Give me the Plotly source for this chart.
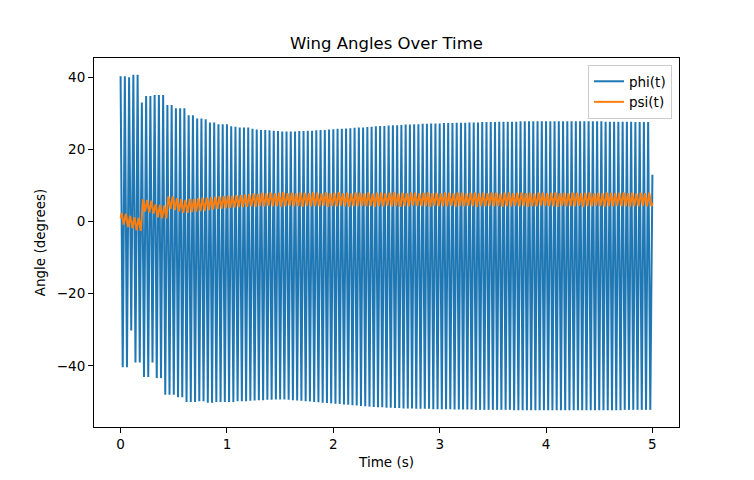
import plotly.graph_objects as go

# wingbeat period (s): one up/down stroke per entry in the lists below
PERIOD = 0.04

PHI_MAX = [
    40.3, 40.3, 40.0, 40.7, 40.7, 33.0, 34.8, 34.8, 35.1, 35.1,
    35.1, 32.3, 32.3, 31.4, 31.4, 31.4, 29.5, 29.5, 28.6, 28.6,
    28.4, 27.5, 27.5, 27.0, 27.0, 27.0, 26.4, 26.3, 26.1, 26.1,
    26.1, 25.7, 25.5, 25.4, 25.4, 25.3, 25.2, 25.1, 25.0, 25.0,
    25.0, 25.0, 25.1, 25.1, 25.2, 25.2, 25.3, 25.4, 25.4, 25.5,
    25.6, 25.7, 25.7, 25.8, 25.9, 26.0, 26.1, 26.1, 26.2, 26.3,
    26.4, 26.5, 26.5, 26.6, 26.7, 26.7, 26.8, 26.9, 26.9, 27.0,
    27.0, 27.1, 27.1, 27.2, 27.2, 27.2, 27.3, 27.3, 27.3, 27.4,
    27.4, 27.4, 27.5, 27.5, 27.5, 27.6, 27.6, 27.6, 27.6, 27.7,
    27.7, 27.7, 27.7, 27.7, 27.8, 27.8, 27.8, 27.8, 27.8, 27.8,
    27.8, 27.8, 27.8, 27.8, 27.8, 27.8, 27.8, 27.8, 27.8, 27.8,
    27.8, 27.8, 27.8, 27.8, 27.7, 27.7, 27.7, 27.7, 27.7, 27.7,
    27.7, 27.6, 27.6, 27.6, 27.6,
]
PHI_MIN = [
    -40.4, -40.4, -30.2, -39.1, -39.1, -43.1, -43.1, -39.1, -43.4, -43.4,
    -48.0, -48.0, -48.0, -48.7, -48.7, -50.0, -50.0, -50.0, -49.8, -49.8,
    -50.2, -50.2, -50.0, -50.0, -50.0, -50.0, -50.0, -49.8, -49.8, -49.8,
    -49.7, -49.6, -49.5, -49.5, -49.4, -49.4, -49.3, -49.3, -49.3, -49.4,
    -49.5, -49.6, -49.7, -49.8, -49.9, -50.0, -50.1, -50.2, -50.3, -50.4,
    -50.5, -50.6, -50.7, -50.8, -50.9, -51.0, -51.1, -51.2, -51.3, -51.4,
    -51.5, -51.5, -51.6, -51.6, -51.7, -51.7, -51.8, -51.8, -51.8, -51.9,
    -51.9, -51.9, -51.9, -52.0, -52.0, -52.0, -52.0, -52.0, -52.1, -52.1,
    -52.1, -52.1, -52.1, -52.2, -52.2, -52.2, -52.2, -52.2, -52.2, -52.2,
    -52.2, -52.2, -52.3, -52.3, -52.3, -52.3, -52.3, -52.3, -52.3, -52.3,
    -52.3, -52.3, -52.3, -52.3, -52.3, -52.3, -52.3, -52.3, -52.3, -52.3,
    -52.3, -52.3, -52.3, -52.3, -52.3, -52.3, -52.3, -52.3, -52.2, -52.2,
    -52.2, -52.2, -52.2, -52.2, -52.2,
]
PHI_END = (5.0, 13.0)

PSI_START = (0.0, 0.9)
PSI_MAX = [
    2.4, 2.2, 1.6, 1.2, 1.0, 6.2, 6.0, 5.8, 4.8, 4.6,
    4.5, 7.0, 7.0, 6.5, 6.2, 6.0, 6.3, 6.3, 6.5, 6.6,
    6.6, 6.8, 6.9, 7.0, 7.1, 7.2, 7.2, 7.3, 7.3, 7.5,
    7.6, 7.8, 7.7, 8.0, 7.9, 8.1, 7.8, 8.0, 8.2, 7.9,
    8.0, 7.8, 8.1, 8.0, 7.9, 8.2, 8.0, 7.8, 8.1, 7.9,
    8.0, 8.2, 7.9, 8.0, 7.8, 8.1, 8.0, 7.9, 8.1, 7.8,
    8.0, 8.1, 7.9, 8.0, 8.2, 7.8, 8.0, 7.9, 8.1, 8.0,
    7.8, 8.0, 8.1, 7.9, 8.0, 7.8, 8.1, 8.0, 7.9, 8.1,
    8.0, 7.8, 8.0, 8.1, 7.9, 8.0, 7.9, 8.1, 8.0, 7.8,
    8.0, 8.1, 7.9, 8.0, 8.1, 7.9, 8.0, 7.8, 8.1, 8.0,
    7.9, 8.0, 8.1, 7.8, 8.0, 7.9, 8.1, 8.0, 7.9, 8.0,
    8.1, 7.8, 8.0, 7.9, 8.1, 8.0, 7.9, 8.0, 8.1, 7.9,
    8.0, 7.8, 8.0, 7.9, 8.0,
]
PSI_MIN = [
    -0.8, -1.5, -1.8, -2.4, -2.6, 2.8, 2.5, 2.2, 1.2, 0.9,
    0.9, 3.5, 3.2, 2.8, 2.4, 2.4, 2.6, 2.8, 2.9, 3.0,
    3.2, 3.4, 3.5, 3.6, 3.7, 3.8, 3.9, 4.0, 4.0, 4.1,
    4.2, 4.1, 4.3, 4.2, 4.4, 4.2, 4.3, 4.1, 4.3, 4.4,
    4.2, 4.3, 4.1, 4.4, 4.2, 4.3, 4.2, 4.4, 4.1, 4.3,
    4.2, 4.4, 4.3, 4.1, 4.3, 4.2, 4.4, 4.2, 4.3, 4.1,
    4.3, 4.2, 4.4, 4.2, 4.3, 4.1, 4.3, 4.2, 4.4, 4.3,
    4.2, 4.3, 4.1, 4.4, 4.2, 4.3, 4.2, 4.4, 4.1, 4.3,
    4.2, 4.4, 4.3, 4.1, 4.3, 4.2, 4.4, 4.2, 4.3, 4.1,
    4.3, 4.2, 4.4, 4.2, 4.3, 4.1, 4.3, 4.2, 4.4, 4.3,
    4.2, 4.3, 4.1, 4.4, 4.2, 4.3, 4.2, 4.4, 4.1, 4.3,
    4.2, 4.4, 4.3, 4.1, 4.3, 4.2, 4.4, 4.2, 4.3, 4.1,
    4.3, 4.2, 4.4, 4.2, 4.3,
]
PSI_END = (5.0, 5.2)

X_TICKS = [0, 1, 2, 3, 4, 5]
Y_TICKS = [-40, -20, 0, 20, 40]

FONT = 'DejaVu Sans'


def build_series(maxima, minima, max_offset, min_offset, start=None, end=None):
    """
    Interleaves the per-stroke extrema into one time/value series.

    Arguments:
        maxima {list} -- stroke maxima, one per wingbeat
        minima {list} -- stroke minima, one per wingbeat
        max_offset {float} -- time of the maximum inside a beat
        min_offset {float} -- time of the minimum inside a beat
        start {tuple} -- optional (t, value) point before the first beat
        end {tuple} -- optional (t, value) point after the last beat

    Returns:
        {tuple} -- (times, values)
    """
    times, values = [], []
    if start:
        times.append(start[0])
        values.append(start[1])
    for k, (hi, lo) in enumerate(zip(maxima, minima)):
        times += [round(k * PERIOD + max_offset, 4), round(k * PERIOD + min_offset, 4)]
        values += [hi, lo]
    if end:
        times.append(end[0])
        values.append(end[1])
    return times, values


phi_t, phi = build_series(PHI_MAX, PHI_MIN, 0.0, 0.02, end=PHI_END)
psi_t, psi = build_series(PSI_MAX, PSI_MIN, 0.01, 0.03, start=PSI_START, end=PSI_END)

# matplotlib style autoscale with 5% margins
all_y = phi + psi
y_span = max(all_y) - min(all_y)
y_range = [min(all_y) - 0.05 * y_span, max(all_y) + 0.05 * y_span]
x_span = max(phi_t) - min(phi_t)
x_range = [min(phi_t) - 0.05 * x_span, max(phi_t) + 0.05 * x_span]

fig = go.Figure()
fig.add_trace(go.Scatter(x=phi_t, y=phi, mode='lines', name='phi(t)',
                         line=dict(color='#1f77b4', width=2)))
fig.add_trace(go.Scatter(x=psi_t, y=psi, mode='lines', name='psi(t)',
                         line=dict(color='#ff7f0e', width=2)))

axis_style = dict(
    showgrid=False, zeroline=False, showline=True, linecolor='black', linewidth=1,
    mirror=True, ticks='outside', ticklen=5, tickwidth=1, tickcolor='black',
    tickfont=dict(family=FONT, size=13.5, color='black'),
    title_font=dict(family=FONT, size=13.5, color='black'),
)

# the page body adds an 8px offset, so margins are shifted left/up by 8px
fig.update_layout(
    width=754, height=480,
    margin=dict(l=86, r=83, t=50, b=61),
    paper_bgcolor='white', plot_bgcolor='white',
    font=dict(family=FONT, color='black'),
    title=dict(text='Wing Angles Over Time', x=0.5, xref='paper', xanchor='center',
               y=1 - 35 / 480, yanchor='middle',
               font=dict(family=FONT, size=16.5, color='black')),
    xaxis=dict(range=x_range, tickvals=X_TICKS, title=dict(text='Time (s)', standoff=6),
               **axis_style),
    yaxis=dict(range=y_range, tickvals=Y_TICKS, title=dict(text='Angle (degrees)', standoff=8),
               **axis_style),
    legend=dict(x=0.988, y=0.981, xanchor='right', yanchor='top',
                bgcolor='rgba(255,255,255,0.8)', bordercolor='#cccccc', borderwidth=1,
                font=dict(family=FONT, size=13.5, color='black'),
                tracegroupgap=2),
    showlegend=True,
)

fig.write_html("out.html")
